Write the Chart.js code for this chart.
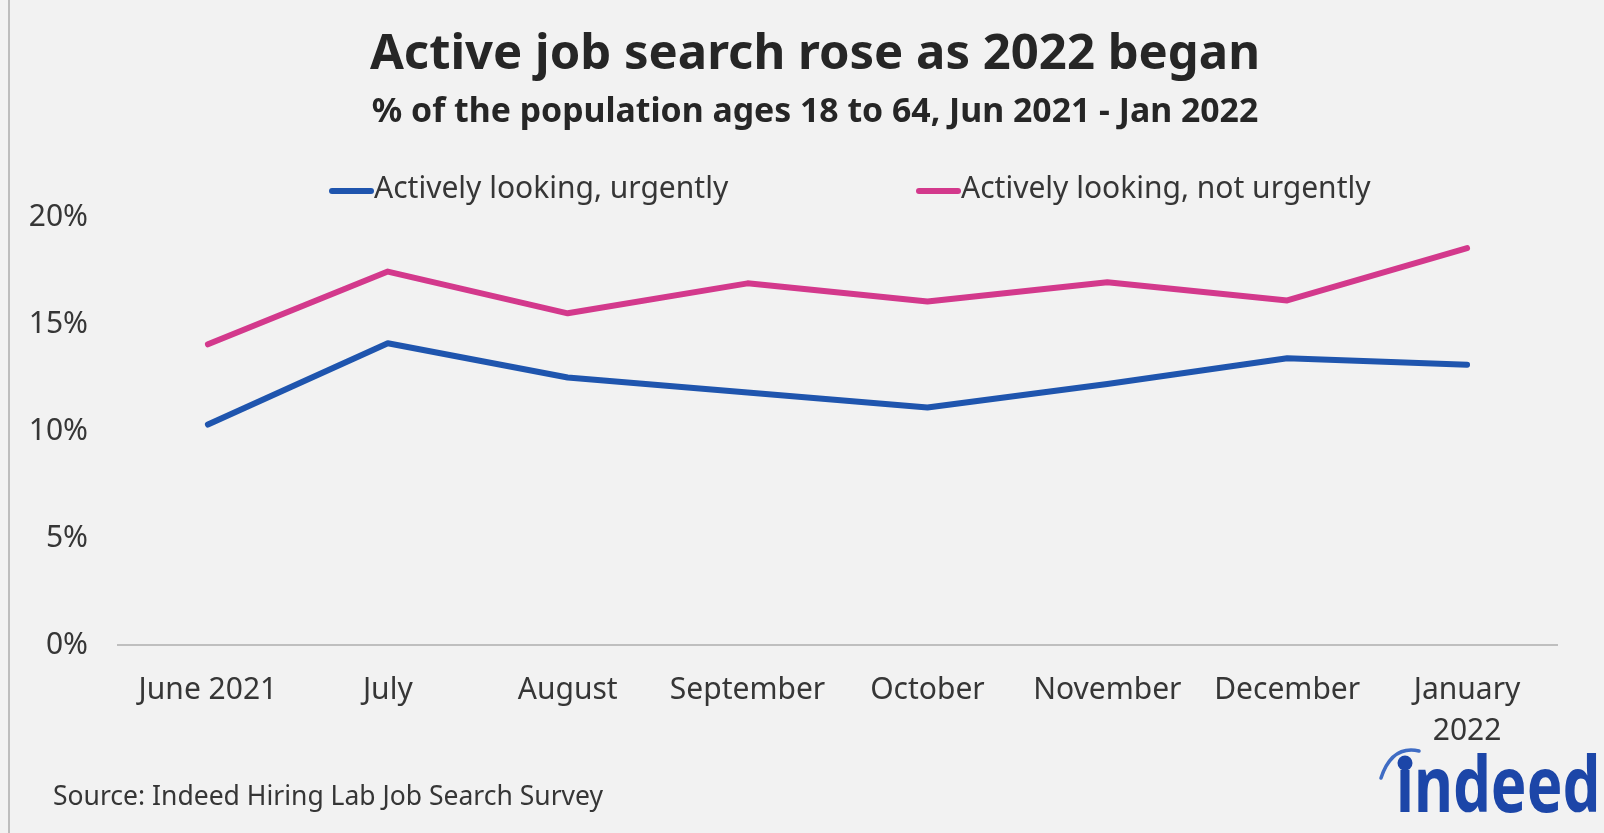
<!DOCTYPE html>
<html>
<head>
<meta charset="utf-8">
<script src="https://cdn.jsdelivr.net/npm/chart.js@4"></script>
<style>
  html, body { margin: 0; padding: 0; background: #f2f2f2; }
  canvas { display: block; }
</style>
</head>
<body>
<canvas id="jobChart" width="1604" height="833"></canvas>
<script>
// Share of people 18-64 actively looking for work, by month
const months = ['June 2021', 'July', 'August', 'September', 'October', 'November', 'December', ['January', '2022']];
const urgently = [10.3, 14.1, 12.5, 11.8, 11.1, 12.2, 13.4, 13.1];
const notUrgently = [14.05, 17.45, 15.5, 16.9, 16.05, 16.95, 16.1, 18.55];
const seriesNames = ['Actively looking, urgently', 'Actively looking, not urgently'];
const seriesColors = ['#1f55ae', '#d3398c'];
const yTicks = [0, 5, 10, 15, 20];

const FONT = '"Noto Sans", "Open Sans", sans-serif';
const TEXT = '#363636';

// background, titles, legend, source line and logo
const decorations = {
    id: 'decorations',
    beforeDraw(chart) {
        const ctx = chart.ctx;
        ctx.save();
        ctx.fillStyle = '#f2f2f2';
        ctx.fillRect(0, 0, chart.width, chart.height);
        ctx.fillStyle = '#bdbdbd';
        ctx.fillRect(8, 0, 2, chart.height);
        ctx.restore();
    },
    afterDraw(chart) {
        const ctx = chart.ctx;
        ctx.save();
        ctx.textBaseline = 'middle';
        ctx.textAlign = 'center';
        ctx.fillStyle = '#262626';
        ctx.font = 'bold 49px ' + FONT;
        ctx.fillText('Active job search rose as 2022 began', 815, 55);
        ctx.font = 'bold 33.8px ' + FONT;
        ctx.fillText('% of the population ages 18 to 64, Jun 2021 - Jan 2022', 815, 112);

        // legend
        ctx.textAlign = 'left';
        ctx.font = '30px ' + FONT;
        const legendX = [329, 916];
        chart.data.datasets.forEach(function (ds, i) {
            ctx.strokeStyle = ds.borderColor;
            ctx.lineWidth = 6;
            ctx.lineCap = 'round';
            ctx.beginPath();
            ctx.moveTo(legendX[i] + 3, 191);
            ctx.lineTo(legendX[i] + 42, 191);
            ctx.stroke();
            ctx.fillStyle = TEXT;
            ctx.fillText(ds.label, legendX[i] + 45, 189);
        });

        ctx.font = '26.5px ' + FONT;
        ctx.fillText('Source: Indeed Hiring Lab Job Search Survey', 53, 797);

        // logo
        ctx.fillStyle = '#1c46a8';
        ctx.save();
        ctx.translate(1396, 812);
        ctx.scale(1, 1.28);
        ctx.textBaseline = 'alphabetic';
        ctx.font = 'bold 60px ' + FONT;
        ctx.fillText('ındeed', 0, 0);
        ctx.restore();
        ctx.beginPath();
        ctx.arc(1405, 763, 7.5, 0, Math.PI * 2);
        ctx.fill();
        ctx.strokeStyle = '#3f6cc4';
        ctx.lineWidth = 3.5;
        ctx.lineCap = 'round';
        ctx.beginPath();
        ctx.moveTo(1381, 778);
        ctx.quadraticCurveTo(1392, 745, 1419, 751);
        ctx.stroke();
        ctx.restore();
    }
};

const config = {
    type: 'line',
    data: {
        labels: months,
        datasets: [{
            label: seriesNames[0],
            data: urgently,
            borderColor: seriesColors[0],
            backgroundColor: seriesColors[0],
            borderWidth: 6,
            pointRadius: 0,
            tension: 0,
            borderCapStyle: 'round',
            borderJoinStyle: 'round'
        }, {
            label: seriesNames[1],
            data: notUrgently,
            borderColor: seriesColors[1],
            backgroundColor: seriesColors[1],
            borderWidth: 6,
            pointRadius: 0,
            tension: 0,
            borderCapStyle: 'round',
            borderJoinStyle: 'round'
        }]
    },
    options: {
        responsive: false,
        animation: false,
        devicePixelRatio: 1,
        layout: {
            padding: { top: 217, right: 47, left: 0, bottom: 0 }
        },
        plugins: {
            legend: { display: false },
            tooltip: { enabled: false }
        },
        scales: {
            x: {
                offset: true,
                grid: { display: false, drawTicks: false },
                border: { display: true, color: '#bfbfbf', width: 2 },
                ticks: {
                    autoSkip: false,
                    maxRotation: 0,
                    padding: 25,
                    color: TEXT,
                    font: { family: FONT, size: 30, lineHeight: 1.37 }
                },
                afterFit: function (scale) { scale.height = 188; }
            },
            y: {
                min: yTicks[0],
                max: yTicks[yTicks.length - 1],
                grid: { display: false, drawTicks: false },
                border: { display: false },
                afterBuildTicks: function (scale) {
                    scale.ticks = yTicks.map(function (v) { return { value: v }; });
                },
                ticks: {
                    padding: 30,
                    color: TEXT,
                    font: { family: FONT, size: 30 },
                    callback: function (v) { return v + '%'; }
                },
                afterFit: function (scale) { scale.width = 118; }
            }
        }
    },
    plugins: [decorations]
};

new Chart(document.getElementById('jobChart'), config);
</script>
</body>
</html>
